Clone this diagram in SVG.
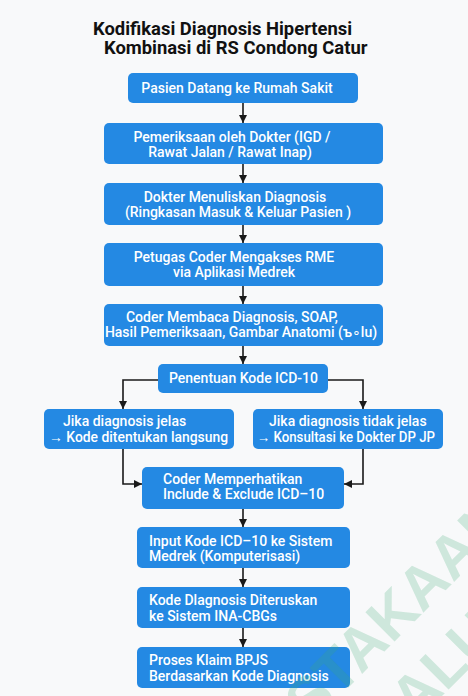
<svg xmlns="http://www.w3.org/2000/svg" width="468" height="696" viewBox="0 0 468 696">
<style>
.bg{fill:#f8f9fa}
.box{fill:#2489e3}
.t{font-family:Roboto,"Liberation Sans",sans-serif;font-size:14px;font-weight:500;fill:#ffffff}
.c{text-anchor:middle}
.title{font-family:Roboto,"Liberation Sans",sans-serif;font-size:18.4px;font-weight:700;fill:#111111}
.wm{font-family:"Liberation Sans",Roboto,sans-serif;font-size:60px;font-weight:700;fill:#3aa872;fill-opacity:0.22}
.ln{fill:none;stroke:#1a1a1a;stroke-width:1.6}
</style>
<defs>
<marker id="ah" markerWidth="8" markerHeight="8" refX="8" refY="4" orient="auto" markerUnits="userSpaceOnUse">
<path d="M0,0 L8,4 L0,8 z" fill="#1a1a1a"/>
</marker>
</defs>
<rect class="bg" x="0" y="0" width="468" height="696"/>
<g id="title">
<text class="title" x="93" y="35">Kodifikasi Diagnosis Hipertensi</text>
<text class="title" x="104" y="54">Kombinasi di RS Condong Catur</text>
</g>
<g id="connectors">
<line class="ln" x1="243" y1="103" x2="243" y2="123" marker-end="url(#ah)"/>
<line class="ln" x1="243" y1="164" x2="243" y2="183" marker-end="url(#ah)"/>
<line class="ln" x1="243" y1="225" x2="243" y2="243" marker-end="url(#ah)"/>
<line class="ln" x1="243" y1="286" x2="243" y2="304" marker-end="url(#ah)"/>
<line class="ln" x1="243" y1="346" x2="243" y2="364" marker-end="url(#ah)"/>
<polyline class="ln" points="158,380 123,380 123,409" marker-end="url(#ah)"/>
<polyline class="ln" points="328,380 363,380 363,409" marker-end="url(#ah)"/>
<polyline class="ln" points="123,449 123,484 142,484" marker-end="url(#ah)"/>
<polyline class="ln" points="363,449 363,484 344,484" marker-end="url(#ah)"/>
<line class="ln" x1="243" y1="509" x2="243" y2="527" marker-end="url(#ah)"/>
<line class="ln" x1="243" y1="568" x2="243" y2="587" marker-end="url(#ah)"/>
<line class="ln" x1="243" y1="628" x2="243" y2="647" marker-end="url(#ah)"/>
</g>
<g id="n1">
<rect class="box" x="128" y="73" width="230" height="30" rx="5"/>
<text class="t c" x="237" y="93">Pasien Datang ke Rumah Sakit</text>
</g>
<g id="n2">
<rect class="box" x="104" y="123" width="279" height="41" rx="5"/>
<text class="t c" x="232" y="142">Pemeriksaan oleh Dokter (IGD /</text>
<text class="t c" x="230" y="157">Rawat Jalan / Rawat Inap)</text>
</g>
<g id="n3">
<rect class="box" x="104" y="183" width="279" height="42" rx="5"/>
<text class="t c" x="235" y="202">Dokter Menuliskan  Diagnosis</text>
<text class="t c" x="238" y="217">(Ringkasan Masuk &amp; Keluar Pasien )</text>
</g>
<g id="n4">
<rect class="box" x="104" y="243" width="279" height="43" rx="5"/>
<text class="t c" x="234" y="262">Petugas Coder Mengakses RME</text>
<text class="t c" x="234" y="277">via Aplikasi Medrek</text>
</g>
<g id="n5">
<rect class="box" x="104" y="304" width="279" height="42" rx="5"/>
<text class="t c" x="232" y="322">Coder Membaca Diagnosis, SOAP,</text>
<text class="t c" x="241" y="337">Hasil Pemeriksaan, Gambar Anatomi (ъ∘lu)</text>
</g>
<g id="n6">
<rect class="box" x="158" y="364" width="170" height="29" rx="5"/>
<text class="t c" x="243.5" y="383">Penentuan Kode ICD-10</text>
</g>
<g id="n7">
<rect class="box" x="44" y="409" width="190" height="40" rx="5"/>
<text class="t" x="63" y="426">Jika diagnosis jelas</text>
<text class="t" x="49" y="442" textLength="179" lengthAdjust="spacingAndGlyphs">→ Kode ditentukan langsung</text>
</g>
<g id="n8">
<rect class="box" x="253" y="409" width="190" height="40" rx="5"/>
<text class="t" x="269" y="426">Jika diagnosis tidak jelas</text>
<text class="t" x="257" y="442" textLength="178" lengthAdjust="spacingAndGlyphs">→ Konsultasi ke Dokter DP JP</text>
</g>
<g id="n9">
<rect class="box" x="142" y="467" width="202" height="42" rx="5"/>
<text class="t" x="163" y="484">Coder Memperhatikan</text>
<text class="t" x="163" y="499">Include &amp; Exclude ICD–10</text>
</g>
<g id="n10">
<rect class="box" x="137" y="527" width="213" height="41" rx="5"/>
<text class="t" x="149" y="546">Input Kode ICD–10 ke Sistem</text>
<text class="t" x="149" y="561">Medrek (Komputerisasi)</text>
</g>
<g id="n11">
<rect class="box" x="137" y="587" width="213" height="41" rx="5"/>
<text class="t" x="149" y="605">Kode Dlagnosis Diteruskan</text>
<text class="t" x="149" y="621">ke Sistem INA-CBGs</text>
</g>
<g id="n12">
<rect class="box" x="137" y="647" width="213" height="41" rx="5"/>
<text class="t" x="149" y="665">Proses Klaim BPJS</text>
<text class="t" x="149" y="681">Berdasarkan Kode Diagnosis</text>
</g>
<g id="watermark">
<text class="wm" transform="translate(310,726) rotate(-45)">STAKAAN</text>
<text class="wm" transform="translate(390,748) rotate(-45)">PALU</text>
</g>
</svg>
